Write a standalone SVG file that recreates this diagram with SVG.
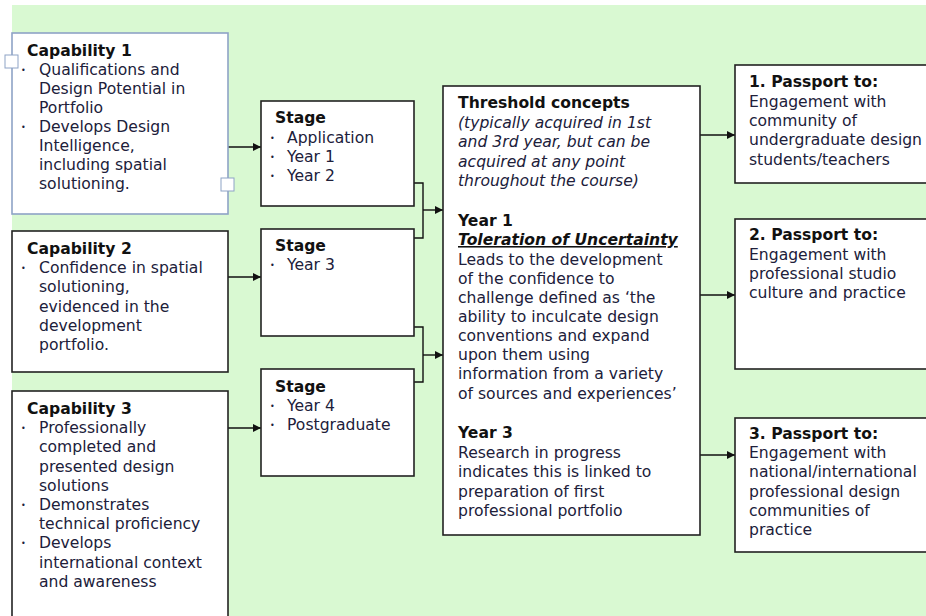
<svg xmlns="http://www.w3.org/2000/svg" width="926" height="616" viewBox="0 0 926 616">
<style>
text{font-family:"DejaVu Sans",Verdana,sans-serif;font-size:15.6px;fill:#20203a}
.b{font-weight:bold;fill:#111}
.i{font-style:italic}
.u{font-weight:bold;font-style:italic;text-decoration:underline;fill:#111}
.dot{font-size:8px}
.box{fill:#fff;stroke:#222;stroke-width:1.6}
.sel{fill:#fff;stroke:#8ea3c6;stroke-width:1.6}
.h{fill:#fff;stroke:#8ea3c6;stroke-width:1}
.ln{fill:none;stroke:#111;stroke-width:1.4}
</style>
<defs>
<marker id="ah" viewBox="0 0 10 10" refX="10" refY="5" markerWidth="8" markerHeight="8" markerUnits="userSpaceOnUse" orient="auto">
<path d="M0,0 L10,5 L0,10 Z" fill="#111"/>
</marker>
</defs>
<rect x="12" y="5" width="914" height="611" fill="#d9f9d2"/>

<g id="connectors">
<path class="ln" d="M228,147 H261" marker-end="url(#ah)"/>
<path class="ln" d="M228,277 H261" marker-end="url(#ah)"/>
<path class="ln" d="M228,428 H261" marker-end="url(#ah)"/>
<path class="ln" d="M414,183 H423 V238 H414"/>
<path class="ln" d="M423,210 H443" marker-end="url(#ah)"/>
<path class="ln" d="M414,327 H423 V382 H414"/>
<path class="ln" d="M423,355 H443" marker-end="url(#ah)"/>
<path class="ln" d="M700,135 H735" marker-end="url(#ah)"/>
<path class="ln" d="M700,295 H735" marker-end="url(#ah)"/>
<path class="ln" d="M700,455 H735" marker-end="url(#ah)"/>
</g>

<g id="cap1">
<rect class="sel" x="12" y="33" width="216" height="181"/>
<rect class="h" x="5" y="55" width="13" height="13"/>
<rect class="h" x="221" y="178" width="13" height="13"/>
<text class="b" x="27" y="56">Capability 1</text>
<text class="dot" x="21" y="73">•</text>
<text x="39" y="75">Qualifications and</text>
<text x="39" y="94">Design Potential in</text>
<text x="39" y="113">Portfolio</text>
<text class="dot" x="21" y="130">•</text>
<text x="39" y="132">Develops Design</text>
<text x="39" y="151">Intelligence,</text>
<text x="39" y="170">including spatial</text>
<text x="39" y="189">solutioning.</text>
</g>

<g id="cap2">
<rect class="box" x="12" y="231" width="216" height="141"/>
<text class="b" x="27" y="254">Capability 2</text>
<text class="dot" x="21" y="271">•</text>
<text x="39" y="273">Confidence in spatial</text>
<text x="39" y="292">solutioning,</text>
<text x="39" y="312">evidenced in the</text>
<text x="39" y="331">development</text>
<text x="39" y="350">portfolio.</text>
</g>

<g id="cap3">
<rect class="box" x="12" y="391" width="216" height="240"/>
<text class="b" x="27" y="414">Capability 3</text>
<text class="dot" x="21" y="431">•</text>
<text x="39" y="433">Professionally</text>
<text x="39" y="452">completed and</text>
<text x="39" y="472">presented design</text>
<text x="39" y="491">solutions</text>
<text class="dot" x="21" y="508">•</text>
<text x="39" y="510">Demonstrates</text>
<text x="39" y="529">technical proficiency</text>
<text class="dot" x="21" y="546">•</text>
<text x="39" y="548">Develops</text>
<text x="39" y="568">international context</text>
<text x="39" y="587">and awareness</text>
</g>

<g id="stage1">
<rect class="box" x="261" y="101" width="153" height="105"/>
<text class="b" x="275" y="123">Stage</text>
<text class="dot" x="270" y="141">•</text>
<text x="287" y="143">Application</text>
<text class="dot" x="270" y="160">•</text>
<text x="287" y="162">Year 1</text>
<text class="dot" x="270" y="179">•</text>
<text x="287" y="181">Year 2</text>
</g>

<g id="stage2">
<rect class="box" x="261" y="229" width="153" height="107"/>
<text class="b" x="275" y="251">Stage</text>
<text class="dot" x="270" y="268">•</text>
<text x="287" y="270">Year 3</text>
</g>

<g id="stage3">
<rect class="box" x="261" y="369" width="153" height="107"/>
<text class="b" x="275" y="392">Stage</text>
<text class="dot" x="270" y="409">•</text>
<text x="287" y="411">Year 4</text>
<text class="dot" x="270" y="428">•</text>
<text x="287" y="430">Postgraduate</text>
</g>

<g id="threshold">
<rect class="box" x="443" y="86" width="257" height="449"/>
<text class="b" x="458" y="108">Threshold concepts</text>
<text class="i" x="458" y="128">(typically acquired in 1st</text>
<text class="i" x="458" y="147">and 3rd year, but can be</text>
<text class="i" x="458" y="167">acquired at any point</text>
<text class="i" x="458" y="186">throughout the course)</text>
<text class="b" x="458" y="226">Year 1</text>
<text class="u" x="458" y="245">Toleration of Uncertainty</text>
<text x="458" y="265">Leads to the development</text>
<text x="458" y="284">of the confidence to</text>
<text x="458" y="303">challenge defined as ‘the</text>
<text x="458" y="322">ability to inculcate design</text>
<text x="458" y="341">conventions and expand</text>
<text x="458" y="360">upon them using</text>
<text x="458" y="379">information from a variety</text>
<text x="458" y="399">of sources and experiences’</text>
<text class="b" x="458" y="438">Year 3</text>
<text x="458" y="458">Research in progress</text>
<text x="458" y="477">indicates this is linked to</text>
<text x="458" y="497">preparation of first</text>
<text x="458" y="516">professional portfolio</text>
</g>

<g id="passport1">
<rect class="box" x="735" y="65" width="210" height="118"/>
<text class="b" x="749" y="87">1. Passport to:</text>
<text x="749" y="107">Engagement with</text>
<text x="749" y="126">community of</text>
<text x="749" y="145">undergraduate design</text>
<text x="749" y="165">students/teachers</text>
</g>

<g id="passport2">
<rect class="box" x="735" y="219" width="210" height="150"/>
<text class="b" x="749" y="240">2. Passport to:</text>
<text x="749" y="260">Engagement with</text>
<text x="749" y="279">professional studio</text>
<text x="749" y="298">culture and practice</text>
</g>

<g id="passport3">
<rect class="box" x="735" y="418" width="210" height="134"/>
<text class="b" x="749" y="439">3. Passport to:</text>
<text x="749" y="458">Engagement with</text>
<text x="749" y="477">national/international</text>
<text x="749" y="497">professional design</text>
<text x="749" y="516">communities of</text>
<text x="749" y="535">practice</text>
</g>
</svg>
